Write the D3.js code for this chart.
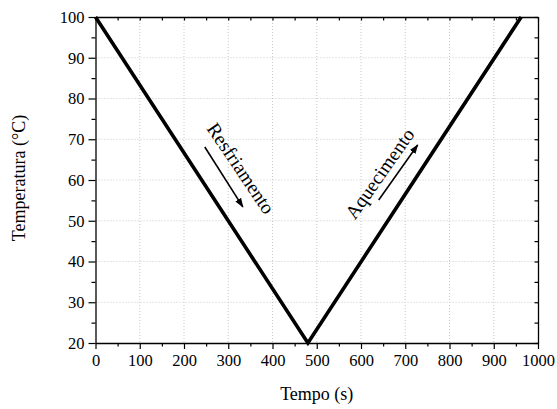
<!DOCTYPE html>
<html>
<head>
<meta charset="utf-8">
<script src="https://cdn.jsdelivr.net/npm/d3@7"></script>
<style>
  body { margin: 0; background: #fff; }
  svg text { font-family: 'Liberation Serif', 'Times New Roman', serif; fill: #000; }
  .grid line { stroke: #c8c8c8; stroke-width: 1; stroke-dasharray: 1,2; }
</style>
</head>
<body>
<div class="chart"></div>
<script>
"use strict";

// data
var tempo = [0, 480, 962];
var temperatura = [100, 20, 100];
var xTicks = [0, 100, 200, 300, 400, 500, 600, 700, 800, 900, 1000];
var yTicks = [20, 30, 40, 50, 60, 70, 80, 90, 100];
var xMinor = d3.range(50, 1000, 100);
var yMinor = d3.range(25, 100, 10);
var notes = [
  {label: "Resfriamento", x: 329, y: 62.9, angle: 56, from: [247, 68.1], to: [333, 53.4]},
  {label: "Aquecimento", x: 642, y: 61.6, angle: -55, from: [640, 55.1], to: [728, 68.6]}
];

var margin = {top: 17, right: 19, bottom: 66, left: 95.5},
    width = 557 - margin.left - margin.right,
    height = 409 - margin.top - margin.bottom;

var svg = d3.select(".chart").append("svg")
    .attr("width", 557)
    .attr("height", 409);

var g = svg.append("g")
    .attr("transform", "translate(" + margin.left + "," + margin.top + ")");

var x = d3.scaleLinear().domain([0, 1000]).range([0, width]);
var y = d3.scaleLinear().domain([20, 100]).range([height, 0]);

// dotted grid at the major ticks
var grid = g.append("g").attr("class", "grid");
grid.selectAll(".gx").data(xTicks.slice(1, -1)).enter().append("line")
    .attr("x1", function(d){ return x(d); }).attr("x2", function(d){ return x(d); })
    .attr("y1", 0).attr("y2", height);
grid.selectAll(".gy").data(yTicks.slice(1, -1)).enter().append("line")
    .attr("y1", function(d){ return y(d); }).attr("y2", function(d){ return y(d); })
    .attr("x1", 0).attr("x2", width);

// axes: outward ticks bottom/left, inward ticks top/right
function styleAxis(sel) {
  sel.attr("font-family", null).attr("font-size", null);
  sel.selectAll("path").attr("stroke", "#000").attr("stroke-width", 1.3);
  sel.selectAll("line").attr("stroke", "#000").attr("stroke-width", 1.2);
  sel.selectAll("text")
    .style("font-size", "16.5px")
    .style("font-family", "'Liberation Serif', serif");
}

var xAxis = g.append("g").attr("transform", "translate(0," + height + ")")
    .call(d3.axisBottom(x).tickValues(xTicks).tickSize(6).tickSizeOuter(0).tickPadding(5).tickFormat(d3.format("d")));
xAxis.call(styleAxis);
g.append("g").attr("transform", "translate(0," + height + ")")
    .call(d3.axisBottom(x).tickValues(xMinor).tickSize(3.5).tickFormat("").tickSizeOuter(0))
    .call(styleAxis).select("path").remove();

var yAxis = g.append("g")
    .call(d3.axisLeft(y).tickValues(yTicks).tickSize(7).tickSizeOuter(0).tickPadding(4).tickFormat(d3.format("d")));
yAxis.call(styleAxis);
g.append("g")
    .call(d3.axisLeft(y).tickValues(yMinor).tickSize(4).tickFormat("").tickSizeOuter(0))
    .call(styleAxis).select("path").remove();

g.append("g")
    .call(d3.axisTop(x).tickValues(xTicks.concat(xMinor)).tickSize(-3.5).tickFormat("").tickSizeOuter(0))
    .call(styleAxis);
g.append("g").attr("transform", "translate(" + width + ",0)")
    .call(d3.axisRight(y).tickValues(yTicks.concat(yMinor)).tickSize(-3.5).tickFormat("").tickSizeOuter(0))
    .call(styleAxis);

// axis titles
svg.append("text")
    .attr("x", margin.left + width / 2)
    .attr("y", 400)
    .attr("text-anchor", "middle")
    .style("font-size", "18px")
    .text("Tempo (s)");

svg.append("text")
    .attr("transform", "translate(25," + (margin.top + height / 2 - 2) + ") rotate(-90)")
    .attr("text-anchor", "middle")
    .style("font-size", "18px")
    .text("Temperatura (°C)");

// the V line
var points = tempo.map(function(d, i){ return [d, temperatura[i]]; });
var line = d3.line()
    .x(function(d){ return x(d[0]); })
    .y(function(d){ return y(d[1]); });

g.append("path")
    .datum(points)
    .attr("fill", "none")
    .attr("stroke", "#000")
    .attr("stroke-width", 3.6)
    .attr("stroke-linejoin", "miter")
    .attr("d", line);

// annotations with arrows
svg.append("defs").append("marker")
    .attr("id", "arrow")
    .attr("viewBox", "0 0 10 10")
    .attr("refX", 9).attr("refY", 5)
    .attr("markerWidth", 6).attr("markerHeight", 6)
    .attr("markerUnits", "strokeWidth")
    .attr("orient", "auto")
    .append("path")
    .attr("d", "M0,1.5 L10,5 L0,8.5 Z")
    .attr("fill", "#000");

var noteGroup = g.selectAll(".note").data(notes).enter().append("g").attr("class", "note");

noteGroup.append("line")
    .attr("x1", function(d){ return x(d.from[0]); })
    .attr("y1", function(d){ return y(d.from[1]); })
    .attr("x2", function(d){ return x(d.to[0]); })
    .attr("y2", function(d){ return y(d.to[1]); })
    .attr("stroke", "#000")
    .attr("stroke-width", 1.6)
    .attr("marker-end", "url(#arrow)");

noteGroup.append("text")
    .attr("transform", function(d){
      return "translate(" + x(d.x) + "," + y(d.y) + ") rotate(" + d.angle + ")";
    })
    .attr("text-anchor", "middle")
    .attr("dy", "0.35em")
    .style("font-size", "19.5px")
    .text(function(d){ return d.label; });
</script>
</body>
</html>
